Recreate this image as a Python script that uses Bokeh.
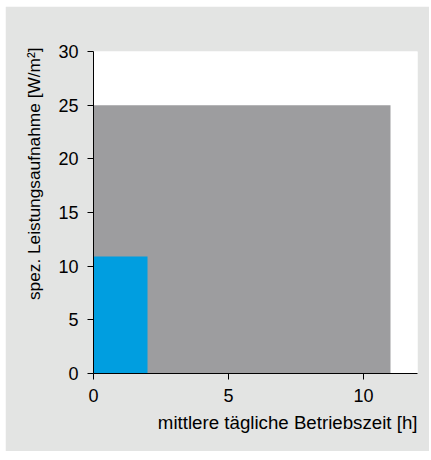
from bokeh.plotting import figure
from bokeh.models import Range1d, FixedTicker, Title, ColumnDataSource
from bokeh.embed import file_html
from bokeh.resources import INLINE

# data
betriebszeit_h = [11, 2]          # mittlere tägliche Betriebszeit [h]
leistung_w_m2 = [25, 10.9]        # spez. Leistungsaufnahme [W/m²]
bar_colors = ["#9d9d9f", "#009ee0"]
x_ticks = [0, 5, 10]
y_ticks = [0, 5, 10, 15, 20, 25, 30]

FONT = "Liberation Sans"

src = ColumnDataSource(dict(
    left=[0] * len(betriebszeit_h),
    right=betriebszeit_h,
    bottom=[0] * len(leistung_w_m2),
    top=leistung_w_m2,
    color=bar_colors,
))

p = figure(output_backend="svg", toolbar_location=None,
           frame_width=324, frame_height=322,
           min_border_left=88, min_border_right=12,
           min_border_top=45, min_border_bottom=78,
           x_range=Range1d(0, 12), y_range=Range1d(0, 30))
p.margin = (6, 0, 0, 5)

p.quad(left="left", right="right", bottom="bottom", top="top",
       fill_color="color", line_color=None, source=src)

p.background_fill_color = "white"
p.border_fill_color = "#e3e4e3"
p.outline_line_color = None
p.grid.visible = False

for ax in (p.xaxis[0], p.yaxis[0]):
    ax.axis_line_color = "black"
    ax.axis_line_width = 1
    ax.major_tick_line_color = "black"
    ax.major_tick_in = 0
    ax.major_tick_out = 6
    ax.minor_tick_line_color = None
    ax.major_label_text_font = FONT
    ax.major_label_text_font_size = "18px"
    ax.major_label_text_color = "black"
    ax.major_label_standoff = 9

p.xaxis.ticker = FixedTicker(ticks=x_ticks)
p.yaxis.ticker = FixedTicker(ticks=y_ticks)

xt = Title(text="mittlere tägliche Betriebszeit [h]", align="right",
           text_font=FONT, text_font_size="18.7px", text_font_style="normal",
           text_color="black", standoff=10)
p.add_layout(xt, "below")

yt = Title(text="spez. Leistungsaufnahme [W/m²]", align="right",
           text_font=FONT, text_font_size="17.3px", text_font_style="normal",
           text_color="black", offset=-4, standoff=23)
p.add_layout(yt, "left")

open("out.html", "w").write(file_html(p, INLINE))
